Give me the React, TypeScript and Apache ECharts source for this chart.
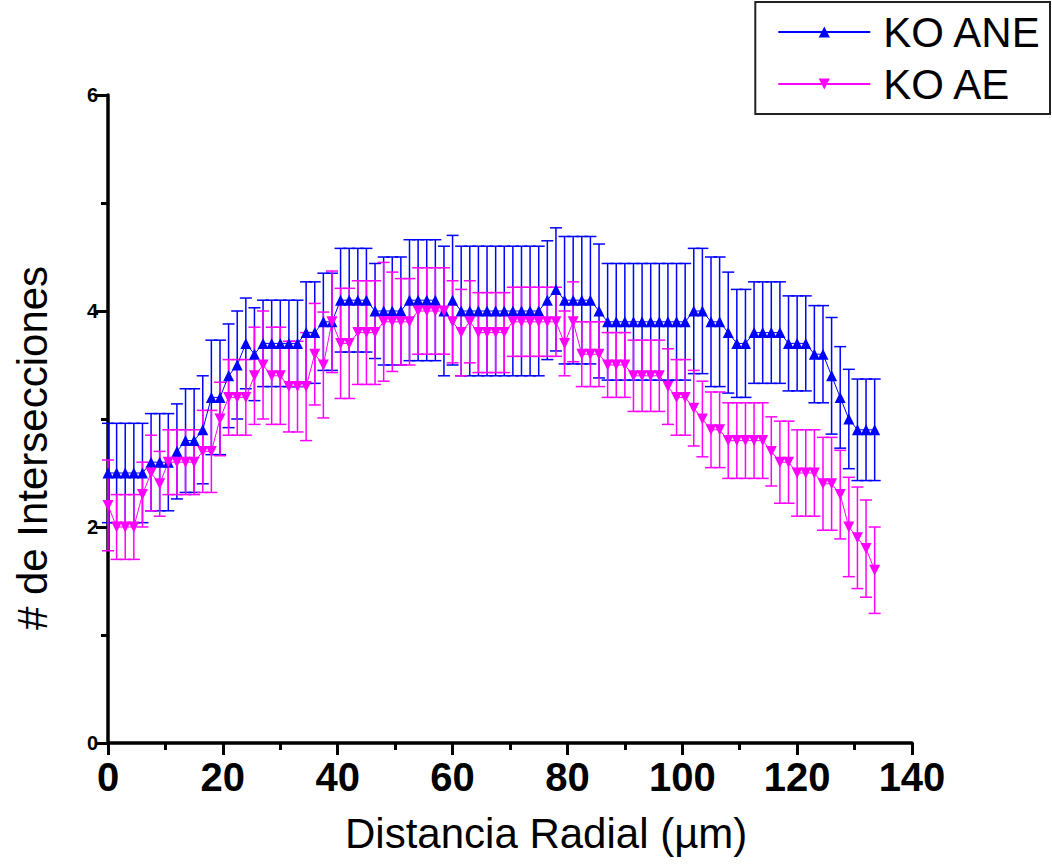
import React, { useEffect, useRef } from "react";
import * as echarts from "echarts";

const distances = [
  0, 1.5, 3, 4.5, 6, 7.5, 9, 10.5, 12, 13.5,
  15, 16.5, 18, 19.5, 21, 22.5, 24, 25.5, 27, 28.5,
  30, 31.5, 33, 34.5, 36, 37.5, 39, 40.5, 42, 43.5,
  45, 46.5, 48, 49.5, 51, 52.5, 54, 55.5, 57, 58.5,
  60, 61.5, 63, 64.5, 66, 67.5, 69, 70.5, 72, 73.5,
  75, 76.5, 78, 79.5, 81, 82.5, 84, 85.5, 87, 88.5,
  90, 91.5, 93, 94.5, 96, 97.5, 99, 100.5, 102, 103.5,
  105, 106.5, 108, 109.5, 111, 112.5, 114, 115.5, 117, 118.5,
  120, 121.5, 123, 124.5, 126, 127.5, 129, 130.5, 132, 133.5,
];

const koANE = [
  2.5, 2.5, 2.5, 2.5, 2.5, 2.6, 2.6, 2.6, 2.7, 2.8,
  2.8, 2.9, 3.2, 3.2, 3.4, 3.5, 3.7, 3.6, 3.7, 3.7,
  3.7, 3.7, 3.7, 3.8, 3.8, 3.9, 3.9, 4.1, 4.1, 4.1,
  4.1, 4.0, 4.0, 4.0, 4.0, 4.1, 4.1, 4.1, 4.1, 4.0,
  4.1, 4.0, 4.0, 4.0, 4.0, 4.0, 4.0, 4.0, 4.0, 4.0,
  4.0, 4.1, 4.2, 4.1, 4.1, 4.1, 4.1, 4.0, 3.9, 3.9,
  3.9, 3.9, 3.9, 3.9, 3.9, 3.9, 3.9, 3.9, 4.0, 4.0,
  3.9, 3.9, 3.8, 3.7, 3.7, 3.8, 3.8, 3.8, 3.8, 3.7,
  3.7, 3.7, 3.6, 3.6, 3.4, 3.2, 3.0, 2.9, 2.9, 2.9,
];

const koANEErr = [
  0.46, 0.46, 0.46, 0.46, 0.46, 0.45, 0.45, 0.45, 0.44, 0.48,
  0.48, 0.5, 0.53, 0.53, 0.48, 0.5, 0.42, 0.43, 0.4, 0.4,
  0.4, 0.4, 0.4, 0.47, 0.47, 0.45, 0.45, 0.48, 0.48, 0.48,
  0.48, 0.44, 0.5, 0.5, 0.5, 0.56, 0.56, 0.56, 0.56, 0.6,
  0.6, 0.6, 0.6, 0.6, 0.6, 0.6, 0.6, 0.6, 0.6, 0.6,
  0.6, 0.55, 0.57, 0.59, 0.59, 0.59, 0.59, 0.62, 0.54, 0.54,
  0.54, 0.54, 0.54, 0.54, 0.54, 0.54, 0.54, 0.54, 0.58, 0.58,
  0.6, 0.6, 0.56, 0.5, 0.5, 0.47, 0.47, 0.47, 0.47, 0.44,
  0.44, 0.44, 0.45, 0.45, 0.54, 0.47, 0.46, 0.47, 0.47, 0.47,
];

const koAE = [
  2.2, 2.0, 2.0, 2.0, 2.3, 2.5, 2.4, 2.6, 2.6, 2.6,
  2.6, 2.7, 2.7, 3.0, 3.2, 3.2, 3.2, 3.4, 3.5, 3.4,
  3.4, 3.3, 3.3, 3.3, 3.6, 3.5, 3.9, 3.7, 3.7, 3.8,
  3.8, 3.8, 3.9, 3.9, 3.9, 3.9, 4.0, 4.0, 4.0, 4.0,
  3.9, 3.8, 3.9, 3.8, 3.8, 3.8, 3.8, 3.9, 3.9, 3.9,
  3.9, 3.9, 3.9, 3.7, 3.9, 3.6, 3.6, 3.6, 3.5, 3.5,
  3.5, 3.4, 3.4, 3.4, 3.4, 3.3, 3.2, 3.2, 3.1, 3.0,
  2.9, 2.9, 2.8, 2.8, 2.8, 2.8, 2.8, 2.7, 2.6, 2.6,
  2.5, 2.5, 2.5, 2.4, 2.4, 2.3, 2.0, 1.9, 1.8, 1.6,
];

const koAEErr = [
  0.42, 0.3, 0.3, 0.3, 0.3, 0.35, 0.3, 0.3, 0.3, 0.3,
  0.3, 0.38, 0.38, 0.34, 0.35, 0.35, 0.35, 0.45, 0.5, 0.45,
  0.45, 0.42, 0.42, 0.5, 0.47, 0.49, 0.47, 0.51, 0.51, 0.48,
  0.48, 0.48, 0.55, 0.46, 0.4, 0.4, 0.4, 0.4, 0.4, 0.4,
  0.38, 0.4, 0.38, 0.37, 0.37, 0.37, 0.37, 0.32, 0.32, 0.32,
  0.32, 0.32, 0.32, 0.3, 0.37, 0.3, 0.3, 0.3, 0.3, 0.3,
  0.3, 0.33, 0.33, 0.33, 0.33, 0.35, 0.35, 0.35, 0.35, 0.35,
  0.35, 0.35, 0.35, 0.35, 0.35, 0.35, 0.35, 0.32, 0.38, 0.38,
  0.4, 0.4, 0.4, 0.43, 0.43, 0.41, 0.46, 0.47, 0.45, 0.4,
];

const FONT = "'Liberation Sans', Arial, sans-serif";
const BLUE = "#0000ff";
const PINK = "#ff00ff";

function errData(vals: number[], errs: number[]) {
  return distances.map((x, i) => [x, vals[i] - errs[i], vals[i] + errs[i]]);
}

function errSeries(name: string, vals: number[], errs: number[], color: string) {
  return {
    type: "custom",
    name,
    data: errData(vals, errs),
    encode: { x: 0, y: [1, 2] },
    silent: true,
    renderItem: (params: any, api: any) => {
      const x = api.value(0);
      const lo = api.coord([x, api.value(1)]);
      const hi = api.coord([x, api.value(2)]);
      const hw = 6;
      const style = { stroke: color, lineWidth: 1.5 };
      return {
        type: "group",
        children: [
          { type: "line", shape: { x1: hi[0], y1: hi[1], x2: lo[0], y2: lo[1] }, style },
          { type: "line", shape: { x1: hi[0] - hw, y1: hi[1], x2: hi[0] + hw, y2: hi[1] }, style },
          { type: "line", shape: { x1: lo[0] - hw, y1: lo[1], x2: lo[0] + hw, y2: lo[1] }, style },
        ],
      };
    },
  };
}

export default function App() {
  const ref = useRef<HTMLDivElement>(null);
  useEffect(() => {
    if (!ref.current) return;
    const chart = echarts.init(ref.current, undefined, { renderer: "svg" });
    chart.setOption({
      animation: false,
      backgroundColor: "#fff",
      grid: { left: 108, right: 140, top: 95, bottom: 122, containLabel: false },
      legend: {
        data: ["KO ANE", "KO AE"],
        orient: "vertical",
        right: 2,
        top: 2,
        itemWidth: 92,
        itemHeight: 14,
        itemGap: 4,
        padding: [6, 8, 6, 22],
        borderColor: "#222",
        borderWidth: 2,
        backgroundColor: "#fff",
        textStyle: { fontSize: 42, fontFamily: FONT, color: "#000", lineHeight: 48, padding: [0, 0, 0, 8] },
      },
      xAxis: {
        type: "value",
        min: 0,
        max: 140,
        interval: 20,
        axisLine: { onZero: false, lineStyle: { color: "#000", width: 3.5 } },
        axisTick: { length: 12, lineStyle: { color: "#000", width: 3 } },
        minorTick: { show: true, splitNumber: 2, length: 7, lineStyle: { color: "#000", width: 3 } },
        splitLine: { show: false },
        axisLabel: { fontSize: 40, fontWeight: "bold", color: "#000", fontFamily: FONT, margin: 14 },
      },
      yAxis: {
        type: "value",
        min: 0,
        max: 6,
        interval: 2,
        axisLine: { show: true, onZero: false, lineStyle: { color: "#000", width: 3.5 } },
        axisTick: { show: true, length: 12, lineStyle: { color: "#000", width: 3 } },
        minorTick: { show: true, splitNumber: 2, length: 7, lineStyle: { color: "#000", width: 3 } },
        splitLine: { show: false },
        axisLabel: { fontSize: 20, fontWeight: "bold", color: "#000", fontFamily: FONT, margin: 10 },
      },
      graphic: [
        {
          type: "text",
          left: 345,
          top: 812,
          style: { text: "Distancia Radial (µm)", fontSize: 42, fontFamily: FONT, fill: "#000" },
        },
        {
          type: "text",
          x: 32,
          y: 448,
          rotation: Math.PI / 2,
          style: {
            text: "# de Intersecciones",
            fontSize: 42,
            fontFamily: FONT,
            fill: "#000",
            align: "center",
            verticalAlign: "middle",
          },
        },
      ],
      series: [
        errSeries("errANE", koANE, koANEErr, BLUE),
        {
          type: "line",
          name: "KO ANE",
          data: distances.map((x, i) => [x, koANE[i]]),
          symbol: "triangle",
          symbolSize: 11,
          itemStyle: { color: BLUE },
          lineStyle: { color: BLUE, width: 1 },
        },
        errSeries("errAE", koAE, koAEErr, PINK),
        {
          type: "line",
          name: "KO AE",
          data: distances.map((x, i) => [x, koAE[i]]),
          symbol: "triangle",
          symbolRotate: 180,
          symbolSize: 11,
          itemStyle: { color: PINK },
          lineStyle: { color: PINK, width: 1 },
        },
      ],
    });
    return () => chart.dispose();
  }, []);
  return (
    <div
      ref={ref}
      style={{ position: "absolute", left: 0, top: 0, width: 1052, height: 865 }}
    />
  );
}
